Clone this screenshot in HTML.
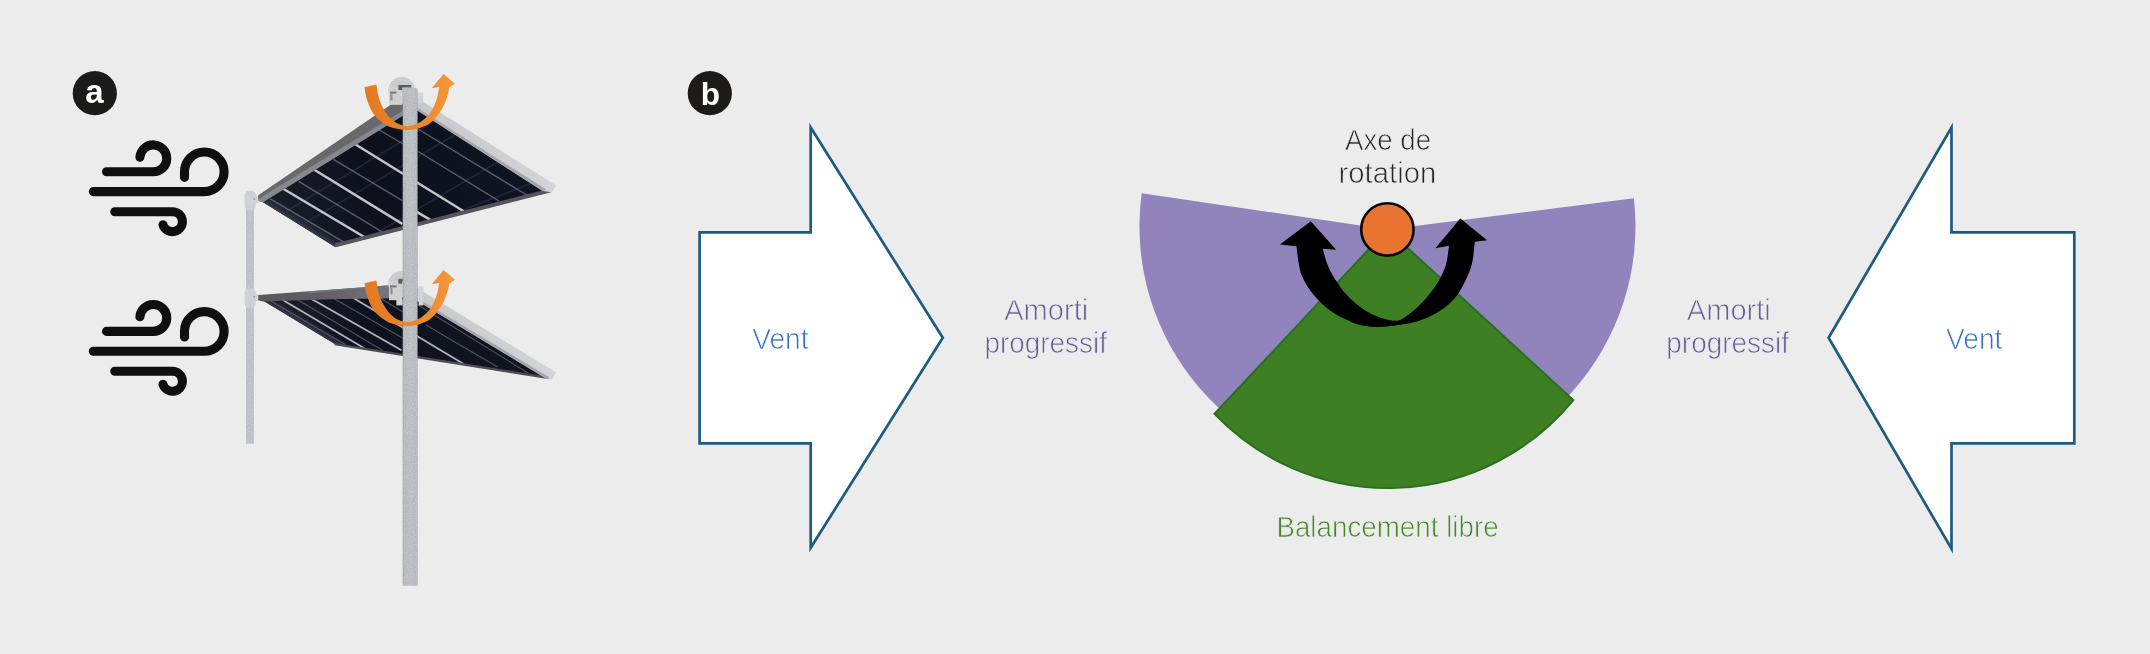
<!DOCTYPE html>
<html lang="fr"><head><meta charset="utf-8"><title>Figure</title>
<style>
html,body{margin:0;padding:0;background:#ececec;}
body{width:2150px;height:654px;overflow:hidden;}
svg{display:block;will-change:transform;font-family:"Liberation Sans",sans-serif;}
</style></head><body>
<svg width="2150" height="654" viewBox="0 0 2150 654">
<rect width="2150" height="654" fill="#ececec"/>
<defs>
<linearGradient id="pv" gradientUnits="userSpaceOnUse" x1="270" y1="210" x2="540" y2="130"><stop offset="0" stop-color="#1a1e2b"/><stop offset=".35" stop-color="#0c111d"/><stop offset="1" stop-color="#0e1422"/></linearGradient>
<linearGradient id="pv2" gradientUnits="userSpaceOnUse" x1="270" y1="300" x2="540" y2="370"><stop offset="0" stop-color="#1c202d"/><stop offset=".35" stop-color="#0d121e"/><stop offset="1" stop-color="#10151f"/></linearGradient>
<linearGradient id="pole" x1="0" y1="0" x2="1" y2="0"><stop offset="0" stop-color="#9a9ea4"/><stop offset=".08" stop-color="#b2b6bc"/><stop offset=".5" stop-color="#b8bcc2"/><stop offset=".92" stop-color="#b3b7bd"/><stop offset="1" stop-color="#9b9fa5"/></linearGradient>
<linearGradient id="pole2" x1="0" y1="0" x2="1" y2="0"><stop offset="0" stop-color="#a9adb3"/><stop offset=".2" stop-color="#bbbfc4"/><stop offset=".8" stop-color="#bcc0c5"/><stop offset="1" stop-color="#abafb5"/></linearGradient>
<linearGradient id="org" gradientUnits="userSpaceOnUse" x1="364" y1="0" x2="455" y2="0"><stop offset="0" stop-color="#e17a22"/><stop offset=".5" stop-color="#e8842b"/><stop offset="1" stop-color="#f3983a"/></linearGradient>
<linearGradient id="beam" gradientUnits="userSpaceOnUse" x1="416" y1="0" x2="556" y2="0"><stop offset="0" stop-color="#c6c8cb"/><stop offset="1" stop-color="#d3d4d7"/></linearGradient>
<filter id="grain" x="0" y="0" width="100%" height="100%"><feTurbulence type="fractalNoise" baseFrequency="0.9" numOctaves="2" seed="3" result="n"/><feColorMatrix in="n" type="matrix" values="0 0 0 0 0  0 0 0 0 0  0 0 0 0 0  0.9 0.9 0.9 0 -1.15" result="a"/><feFlood flood-color="#ffffff" flood-opacity=".3"/><feComposite operator="in" in2="a" result="w"/><feComposite operator="in" in="w" in2="SourceGraphic" result="wc"/><feMerge><feMergeNode in="SourceGraphic"/><feMergeNode in="wc"/></feMerge></filter>
<linearGradient id="band2" gradientUnits="userSpaceOnUse" x1="258" y1="0" x2="404" y2="0"><stop offset="0" stop-color="#57575c"/><stop offset=".45" stop-color="#5f5f64"/><stop offset="1" stop-color="#7a7a7f"/></linearGradient>
<linearGradient id="edge1" gradientUnits="userSpaceOnUse" x1="298" y1="224" x2="303.8" y2="214.6"><stop offset="0" stop-color="#3a3e4b" stop-opacity=".95"/><stop offset=".35" stop-color="#2b2f3c" stop-opacity=".8"/><stop offset="1" stop-color="#1a1e2b" stop-opacity="0"/></linearGradient>
<linearGradient id="edge2" gradientUnits="userSpaceOnUse" x1="298" y1="322" x2="303.2" y2="313.4"><stop offset="0" stop-color="#3a3e4b" stop-opacity=".95"/><stop offset=".35" stop-color="#2b2f3c" stop-opacity=".8"/><stop offset="1" stop-color="#1a1e2b" stop-opacity="0"/></linearGradient>
</defs>
<circle cx="94.8" cy="93.2" r="22.1" fill="#1c1b1a"/>
<text x="94.39999999999999" y="103.1" font-size="33" font-weight="700" fill="#fff" text-anchor="middle">a</text>
<circle cx="709.8" cy="93.2" r="22.1" fill="#1c1b1a"/>
<text x="710.4" y="104.9" font-size="31.5" font-weight="700" fill="#fff" text-anchor="middle">b</text>
<g transform="translate(0,0)" fill="none" stroke="#0f0f0f" stroke-width="9.1" stroke-linecap="round">
<path d="M106.5 171.8H153.25A13.45 13.45 0 1 0 139.9 157.2"/>
<path d="M93.3 191.6H204.3A19.8 19.8 0 1 0 184.5 171.7V177.4"/>
<path d="M114.8 211.7H172.35A9.95 9.95 0 1 1 163 224.8"/>
</g>
<g transform="translate(0,159.6)" fill="none" stroke="#0f0f0f" stroke-width="9.1" stroke-linecap="round">
<path d="M106.5 171.8H153.25A13.45 13.45 0 1 0 139.9 157.2"/>
<path d="M93.3 191.6H204.3A19.8 19.8 0 1 0 184.5 171.7V177.4"/>
<path d="M114.8 211.7H172.35A9.95 9.95 0 1 1 163 224.8"/>
</g>
<rect x="246.2" y="196" width="7.5" height="247.8" fill="url(#pole2)" filter="url(#grain)"/>
<clipPath id="c1"><polygon points="261.0,201.0 335.2,246.9 549.5,191.8 416.0,107.5 396.0,108.0"/></clipPath>
<polygon points="261.0,201.0 335.2,246.9 549.5,191.8 416.0,107.5 396.0,108.0" fill="url(#pv)"/>
<g clip-path="url(#c1)">
<polygon points="258.0,200.0 335.2,247.5 350.0,243.0 270.0,192.0" fill="url(#edge1)"/>
<line x1="300.0" y1="226.0" x2="480.0" y2="120.0" stroke="#39405a" stroke-width="1.6" opacity="0.45"/>
<line x1="370.0" y1="237.0" x2="515.0" y2="152.0" stroke="#39405a" stroke-width="1.6" opacity="0.45"/>
<line x1="440.0" y1="219.0" x2="540.0" y2="180.0" stroke="#39405a" stroke-width="1.6" opacity="0.45"/>
<line x1="282.0" y1="214.0" x2="440.0" y2="118.0" stroke="#39405a" stroke-width="1.6" opacity="0.45"/>
<line x1="298.6" y1="181.4" x2="382.1" y2="231.8" stroke="#666b7a" stroke-width="1.4" opacity="0.85"/>
<line x1="333.5" y1="159.4" x2="402.3" y2="200.6" stroke="#666b7a" stroke-width="1.4" opacity="0.85"/>
<line x1="270.2" y1="198.8" x2="343.6" y2="241.9" stroke="#666b7a" stroke-width="1.4" opacity="0.85"/>
<line x1="418.2" y1="151.5" x2="498.8" y2="200.9" stroke="#666b7a" stroke-width="1.4" opacity="0.85"/>
<line x1="376.0" y1="128.0" x2="403.0" y2="144.0" stroke="#666b7a" stroke-width="1.4" opacity="0.85"/>
<line x1="418.0" y1="129.0" x2="535.0" y2="200.0" stroke="#666b7a" stroke-width="1.4" opacity="0.85"/>
<line x1="282.8" y1="188.5" x2="364.7" y2="237.3" stroke="#c3c5cb" stroke-width="2.5"/>
<line x1="307.8" y1="165.8" x2="402.3" y2="223.9" stroke="#c3c5cb" stroke-width="2.5"/>
<line x1="352.8" y1="142.8" x2="463.7" y2="211.3" stroke="#c3c5cb" stroke-width="2.5"/>
<line x1="415.0" y1="210.8" x2="431.2" y2="220.4" stroke="#c3c5cb" stroke-width="2.5"/>
</g>
<line x1="334.9" y1="245.4" x2="550.6" y2="190.4" stroke="#55555a" stroke-width="4"/>
<polygon points="258.3,195.2 394.0,102.4 404.0,102.0 404.0,115.0 263.2,202.0 257.1,200.7" fill="#68686d"/>
<polygon points="258.2,199.0 404.0,110.0 404.0,115.0 263.2,202.0 257.1,200.7" fill="#87888d"/>
<polygon points="416.0,97.3 556.0,185.3 552.2,192.6 542.4,190.8 416.0,109.5" fill="url(#beam)"/>
<polygon points="416.0,107.0 546.5,189.6 542.4,190.8 416.0,109.8" fill="#a4a6ac"/>
<clipPath id="c2"><polygon points="262.0,300.0 335.2,344.2 549.5,378.0 418.0,298.0 395.0,292.0"/></clipPath>
<polygon points="262.0,300.0 335.2,344.2 549.5,378.0 418.0,298.0 395.0,292.0" fill="url(#pv2)"/>
<g clip-path="url(#c2)">
<polygon points="258.0,298.0 335.2,344.6 352.0,347.0 278.0,298.0" fill="url(#edge2)"/>
<line x1="298.0" y1="300.0" x2="382.0" y2="350.0" stroke="#5d6272" stroke-width="1.2" opacity="0.8"/>
<line x1="333.0" y1="298.0" x2="402.5" y2="338.0" stroke="#5d6272" stroke-width="1.2" opacity="0.8"/>
<line x1="271.0" y1="301.0" x2="345.0" y2="344.5" stroke="#5d6272" stroke-width="1.2" opacity="0.8"/>
<line x1="426.0" y1="325.0" x2="497.5" y2="367.1" stroke="#5d6272" stroke-width="1.2" opacity="0.8"/>
<line x1="418.0" y1="305.0" x2="528.0" y2="373.0" stroke="#5d6272" stroke-width="1.2" opacity="0.8"/>
<line x1="380.0" y1="298.0" x2="403.0" y2="312.0" stroke="#5d6272" stroke-width="1.2" opacity="0.8"/>
<line x1="282.8" y1="300.0" x2="364.3" y2="348.3" stroke="#b2b4bc" stroke-width="1.8"/>
<line x1="309.0" y1="297.5" x2="401.5" y2="350.2" stroke="#b2b4bc" stroke-width="1.8"/>
<line x1="353.4" y1="298.1" x2="463.7" y2="364.0" stroke="#b2b4bc" stroke-width="1.8"/>
</g>
<line x1="334.6" y1="344.1" x2="549.5" y2="378.0" stroke="#4c4c52" stroke-width="2.4"/>
<polygon points="258.3,295.1 340.0,289.0 393.7,285.0 404.0,285.0 404.0,298.3 340.0,298.9 281.6,300.8 262.5,301.6 257.5,300.0" fill="url(#band2)"/>
<polygon points="307.0,291.4 393.7,285.0 397.0,285.0 309.5,293.6" fill="#737479"/>
<polygon points="416.0,287.6 556.0,372.3 552.2,379.2 546.0,378.4 416.0,300.0" fill="url(#beam)"/>
<polygon points="416.0,297.4 549.5,377.2 546.0,378.4 416.0,300.3" fill="#a4a6ac"/>
<rect x="244.7" y="190.70000000000002" width="11" height="19.5" rx="4.5" fill="#cacccf" filter="url(#grain)"/>
<rect x="244.7" y="195.8" width="13.6" height="8" rx="3.2" fill="#d0d2d5"/>
<circle cx="254.3" cy="199.10000000000002" r="1" fill="#9c9ea2"/>
<rect x="244.7" y="288.4" width="11" height="19.5" rx="4.5" fill="#cacccf" filter="url(#grain)"/>
<rect x="244.7" y="293.5" width="13.6" height="8" rx="3.2" fill="#d0d2d5"/>
<circle cx="254.3" cy="296.8" r="1" fill="#9c9ea2"/>
<g filter="url(#grain)">
<circle cx="401.6" cy="90.4" r="13.3" fill="#c7c8cb"/>
<rect x="389.0" y="87.4" width="13" height="17.5" fill="#cbccce"/>
<rect x="417.6" y="92.4" width="5.6" height="11" fill="#d0d1d4"/>
</g>
<path d="M398.4 85.0h12.8v2.4h-9v2.6h-3.8z" fill="#595c5c"/>
<rect x="390.1" y="91.6" width="6.5" height="2" fill="#77797c"/>
<rect x="390.3" y="93.4" width="2.2" height="7" fill="#8e9093"/>
<g filter="url(#grain)">
<circle cx="401.6" cy="284.2" r="13.3" fill="#c7c8cb"/>
<rect x="389.0" y="281.2" width="13" height="19" fill="#cbccce"/>
<rect x="417.6" y="286.2" width="5.6" height="15" fill="#d0d1d4"/>
<rect x="396.4" y="299.2" width="6.3" height="6.2" fill="#cfd0d3"/>
<rect x="418.6" y="300.2" width="4.6" height="5.2" fill="#cfd0d3"/>
</g>
<path d="M398.4 278.8h12.8v2.4h-9v2.6h-3.8z" fill="#595c5c"/>
<rect x="390.1" y="285.4" width="6.5" height="2" fill="#77797c"/>
<rect x="390.3" y="287.2" width="2.2" height="7" fill="#8e9093"/>
<path d="M402.7 585.8V90.2a2.5 2.5 0 0 1 2.5-2.5h9.9a2.5 2.5 0 0 1 2.5 2.5V585.8Z" fill="url(#pole)" filter="url(#grain)"/>
<path transform="translate(0,0)" d="M364.5 87.2 C364.8 89.0 365.5 94.4 366.5 98.0 C367.5 101.6 369.0 105.7 370.6 108.9 C372.2 112.1 374.0 114.7 376.0 117.0 C378.0 119.3 380.3 121.0 382.8 122.7 C385.3 124.4 387.9 126.2 391.0 127.3 C394.1 128.4 397.4 129.1 401.1 129.5 C404.8 129.9 409.3 130.1 413.4 129.5 C417.5 128.9 422.4 127.1 425.6 125.7 C428.8 124.3 430.5 122.8 432.5 121.0 C434.5 119.2 436.1 117.2 437.8 115.0 C439.5 112.8 441.2 110.3 442.5 108.0 C443.8 105.7 444.6 103.6 445.5 101.3 C446.4 99.0 447.4 96.3 448.0 94.0 C448.6 91.7 449.1 88.6 449.3 87.5 L454.9 83.7 L443.6 74.1 L431.7 88.3 L439.3 86.7 C439.0 88.2 438.2 93.1 437.5 96.0 C436.8 98.9 435.9 101.6 434.8 104.3 C433.7 107.0 432.3 109.7 430.8 112.0 C429.3 114.3 427.4 116.4 425.6 118.1 C423.8 119.8 422.0 121.1 420.0 122.3 C418.0 123.5 415.6 124.4 413.4 125.0 C411.2 125.6 409.1 126.0 407.0 126.0 C404.9 126.0 403.2 125.7 401.1 125.0 C399.0 124.3 396.5 123.2 394.5 121.8 C392.5 120.4 390.6 118.5 388.9 116.5 C387.1 114.5 385.4 111.8 384.0 109.5 C382.6 107.2 381.5 105.4 380.5 102.8 C379.5 100.2 378.7 97.0 378.0 94.0 C377.3 91.0 376.7 86.1 376.4 84.5 Z" fill="url(#org)"/>
<path transform="translate(0,196)" d="M364.5 87.2 C364.8 89.0 365.5 94.4 366.5 98.0 C367.5 101.6 369.0 105.7 370.6 108.9 C372.2 112.1 374.0 114.7 376.0 117.0 C378.0 119.3 380.3 121.0 382.8 122.7 C385.3 124.4 387.9 126.2 391.0 127.3 C394.1 128.4 397.4 129.1 401.1 129.5 C404.8 129.9 409.3 130.1 413.4 129.5 C417.5 128.9 422.4 127.1 425.6 125.7 C428.8 124.3 430.5 122.8 432.5 121.0 C434.5 119.2 436.1 117.2 437.8 115.0 C439.5 112.8 441.2 110.3 442.5 108.0 C443.8 105.7 444.6 103.6 445.5 101.3 C446.4 99.0 447.4 96.3 448.0 94.0 C448.6 91.7 449.1 88.6 449.3 87.5 L454.9 83.7 L443.6 74.1 L431.7 88.3 L439.3 86.7 C439.0 88.2 438.2 93.1 437.5 96.0 C436.8 98.9 435.9 101.6 434.8 104.3 C433.7 107.0 432.3 109.7 430.8 112.0 C429.3 114.3 427.4 116.4 425.6 118.1 C423.8 119.8 422.0 121.1 420.0 122.3 C418.0 123.5 415.6 124.4 413.4 125.0 C411.2 125.6 409.1 126.0 407.0 126.0 C404.9 126.0 403.2 125.7 401.1 125.0 C399.0 124.3 396.5 123.2 394.5 121.8 C392.5 120.4 390.6 118.5 388.9 116.5 C387.1 114.5 385.4 111.8 384.0 109.5 C382.6 107.2 381.5 105.4 380.5 102.8 C379.5 100.2 378.7 97.0 378.0 94.0 C377.3 91.0 376.7 86.1 376.4 84.5 Z" fill="url(#org)"/>
<polygon points="699.6,232.4 810.7,232.4 810.7,127.5 942.8,337.7 810.7,547.8 810.7,443.3 699.6,443.3" fill="#fff" stroke="#1d5b82" stroke-width="2.7" stroke-miterlimit="10"/>
<polygon points="2074.3,232.4 1951.5,232.4 1951.5,127.5 1828.6,337.8 1951.5,548.8 1951.5,443.3 2074.3,443.3" fill="#fff" stroke="#1d5b82" stroke-width="2.7" stroke-miterlimit="10"/>
<path d="M1387.4 229.4L1141.7 193.2A248 248 0 1 0 1633.9 198.3Z" fill="#9184bd"/>
<path d="M1387.4 229.4L1214.5 413.8A239.5 239.5 0 0 0 1573.3 400.1Z" fill="#3f7f24" stroke="#27701f" stroke-width="2" stroke-linejoin="miter"/>
<path d="M1296.4 246.2 C1297.3 251.1 1298.2 266.7 1301.8 275.6 C1305.3 284.5 1311.4 292.7 1317.7 299.5 C1324.0 306.3 1331.6 312.1 1339.6 316.4 C1347.5 320.7 1358.8 323.6 1365.4 325.3 C1372.0 327.0 1374.1 326.8 1379.4 326.7 C1384.7 326.6 1391.0 325.9 1397.3 324.9 C1403.6 323.9 1411.2 322.4 1417.0 320.5 C1422.8 318.6 1429.5 314.7 1432.0 313.5 C1429.2 314.3 1420.6 317.3 1415.0 318.5 C1409.4 319.7 1403.2 320.7 1398.3 320.8 C1393.3 320.9 1390.8 320.7 1385.3 319.0 C1379.8 317.3 1372.0 314.6 1365.4 310.4 C1358.8 306.1 1351.5 300.3 1345.6 293.5 C1339.6 286.7 1333.5 277.1 1329.7 269.7 C1325.9 262.2 1323.9 252.3 1322.7 248.8 L1336.2 249.8 L1310.8 221.3 L1279.9 244.4 Z" fill="#000"/>
<path d="M1474.8 241.8 C1474.1 246.1 1473.8 258.8 1470.8 267.7 C1467.8 276.6 1462.2 288.2 1456.9 295.5 C1451.6 302.8 1445.6 307.1 1439.0 311.4 C1432.4 315.7 1424.0 319.1 1417.1 321.4 C1410.1 323.6 1403.6 324.0 1397.3 324.9 C1391.0 325.8 1385.3 326.6 1379.4 326.7 C1373.5 326.8 1367.2 326.5 1362.0 325.5 C1356.8 324.5 1350.3 321.3 1348.0 320.5 C1350.8 320.8 1359.3 322.2 1365.0 322.5 C1370.7 322.8 1376.5 322.8 1382.0 322.5 C1387.5 322.2 1392.5 323.3 1398.3 320.8 C1404.1 318.3 1411.3 312.6 1417.1 307.4 C1422.9 302.2 1428.3 296.1 1433.0 289.5 C1437.7 282.9 1442.3 275.0 1445.0 267.7 C1447.7 260.4 1448.3 249.5 1449.0 245.8 L1435.4 248.2 L1460.3 218.4 L1487.1 240.2 Z" fill="#000"/>
<circle cx="1387.4" cy="229.4" r="26.2" fill="#e97432" stroke="#0a0a0a" stroke-width="2.6"/>
<text x="752.2" y="348.6" font-size="29" fill="#3a72c2" stroke="#ffffff" stroke-width="0.7" textLength="56.4" lengthAdjust="spacingAndGlyphs">Vent</text>
<text x="1946.0" y="348.6" font-size="29" fill="#3a72c2" stroke="#ffffff" stroke-width="0.7" textLength="56.4" lengthAdjust="spacingAndGlyphs">Vent</text>
<text x="1345" y="150.1" font-size="29" fill="#262626" stroke="#ececec" stroke-width="0.75" textLength="86" lengthAdjust="spacingAndGlyphs">Axe de</text>
<text x="1338.6" y="183.2" font-size="29" fill="#262626" stroke="#ececec" stroke-width="0.75" textLength="97.6" lengthAdjust="spacingAndGlyphs">rotation</text>
<text x="1004.2" y="320.1" font-size="29" fill="#625f97" stroke="#ececec" stroke-width="0.75" textLength="84" lengthAdjust="spacingAndGlyphs">Amorti</text>
<text x="984.4" y="353" font-size="29" fill="#625f97" stroke="#ececec" stroke-width="0.75" textLength="122.6" lengthAdjust="spacingAndGlyphs">progressif</text>
<text x="1686.8" y="320.1" font-size="29" fill="#625f97" stroke="#ececec" stroke-width="0.75" textLength="84" lengthAdjust="spacingAndGlyphs">Amorti</text>
<text x="1666.3" y="353" font-size="29" fill="#625f97" stroke="#ececec" stroke-width="0.75" textLength="122.6" lengthAdjust="spacingAndGlyphs">progressif</text>
<text x="1276.4" y="536.5" font-size="29" fill="#43882a" stroke="#ececec" stroke-width="0.75" textLength="222.2" lengthAdjust="spacingAndGlyphs">Balancement libre</text>
</svg>
</body></html>
